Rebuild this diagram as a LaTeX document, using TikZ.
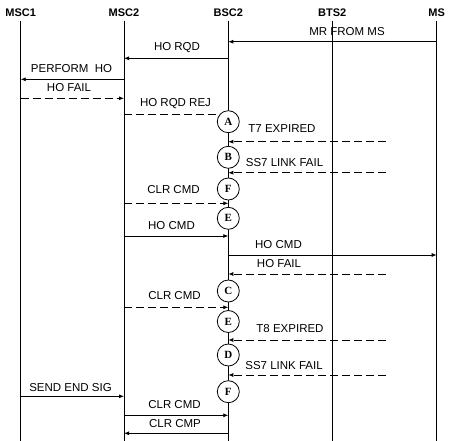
\documentclass[tikz,border=0pt]{standalone}
\usepackage{fontspec}
\setmainfont{Liberation Sans}
\newfontfamily\statefont{Liberation Serif}
\usetikzlibrary{arrows.meta,positioning}

\begin{document}
\begin{tikzpicture}[
    x=1pt, y=-1pt,
    >={Latex[length=5pt,width=4pt]},
    head/.style={font=\fontsize{11}{12}\selectfont\bfseries, inner sep=0pt},
    life/.style={line width=0.8pt},
    msg/.style={->, line width=0.8pt},
    fail/.style={->, line width=0.8pt, dash pattern=on 8pt off 4pt},
    lbl/.style={font=\fontsize{11.5}{13}\selectfont, inner sep=0pt},
    state/.style={draw, circle, fill=white, line width=0.8pt, minimum size=22pt, inner sep=0pt, font=\statefont\fontsize{11}{12}\selectfont\bfseries}
]
    \fill[white] (0,0) rectangle (452,441);
    \useasboundingbox (0,0) rectangle (452,441);

    % Entities
    \node[head] (msc1) at (20.7,12.7) {MSC1};
    \node[head] (msc2) at (124,12.7) {MSC2};
    \node[head] (bsc2) at (228.3,12.7) {BSC2};
    \node[head] (bts2) at (332.3,12.7) {BTS2};
    \node[head] (ms) at (436.7,12.7) {MS};
    \coordinate (ext) at (386,0);

    % Lifelines
    \draw[life] (msc1 |- 0,21) -- (msc1 |- 0,441);
    \draw[life] (msc2 |- 0,21) -- (msc2 |- 0,441);
    \draw[life] (bsc2 |- 0,21) -- (bsc2 |- 0,441);
    \draw[life] (bts2 |- 0,21) -- (bts2 |- 0,441);
    \draw[life] (ms |- 0,21) -- (ms |- 0,441);

    % Handover request and rejection
    \draw[msg] (ms |- 0,41.7) -- (bsc2 |- 0,41.7);
    \node[lbl] (mr) at (347,32) {MR FROM MS};
    \draw[msg] (bsc2 |- 0,58.3) -- (msc2 |- 0,58.3);
    \node[lbl] (horqd) at (177,48) {HO RQD};
    \draw[msg] (msc2 |- 0,79.3) -- (msc1 |- 0,79.3);
    \node[lbl] (perform) at (71.5,69) {PERFORM\ \ HO};
    \draw[fail] (msc1 |- 0,98.3) -- (msc2 |- 0,98.3);
    \node[lbl] (hofail1) at (69,88) {HO FAIL};
    \draw[fail] (msc2 |- 0,114.3) -- (bsc2 |- 0,114.3);
    \node[lbl] (horqdrej) at (175.5,104) {HO RQD REJ};

    % Failure cases before handover command
    \node[state] (sa) at (bsc2 |- 0,121.7) {A};
    \draw[fail] (ext |- 0,141.7) -- (bsc2 |- 0,141.7);
    \node[lbl] (t7) at (282,129) {T7 EXPIRED};
    \node[state] (sb) at (bsc2 |- 0,157.3) {B};
    \draw[fail] (ext |- 0,172.7) -- (bsc2 |- 0,172.7);
    \node[lbl] (ss7a) at (284.5,162.7) {SS7 LINK FAIL};
    \node[state] (sf1) at (bsc2 |- 0,189) {F};
    \draw[fail] (msc2 |- 0,203.3) -- (bsc2 |- 0,203.3);
    \node[lbl] (clr1) at (173.5,189.5) {CLR CMD};

    % Handover command
    \node[state] (se1) at (bsc2 |- 0,218.3) {E};
    \draw[msg] (msc2 |- 0,236) -- (bsc2 |- 0,236);
    \node[lbl] (hocmd1) at (171.5,226) {HO CMD};
    \draw[msg] (bsc2 |- 0,255) -- (ms |- 0,255);
    \node[lbl] (hocmd2) at (278.5,244.3) {HO CMD};
    \draw[fail] (ext |- 0,274) -- (bsc2 |- 0,274);
    \node[lbl] (hofail2) at (279,263.3) {HO FAIL};
    \node[state] (sc) at (bsc2 |- 0,291) {C};
    \draw[fail] (msc2 |- 0,307.3) -- (bsc2 |- 0,307.3);
    \node[lbl] (clr2) at (174.5,295.7) {CLR CMD};

    % Failure cases after handover command
    \node[state] (se2) at (bsc2 |- 0,321.5) {E};
    \draw[fail] (ext |- 0,340) -- (bsc2 |- 0,340);
    \node[lbl] (t8) at (290,328.3) {T8 EXPIRED};
    \node[state] (sd) at (bsc2 |- 0,355) {D};
    \draw[fail] (ext |- 0,375) -- (bsc2 |- 0,375);
    \node[lbl] (ss7b) at (284,366) {SS7 LINK FAIL};
    \node[state] (sf2) at (bsc2 |- 0,391.7) {F};

    % Release
    \draw[msg] (msc1 |- 0,396.3) -- (msc2 |- 0,396.3);
    \node[lbl] (endsig) at (70.5,387.7) {SEND END SIG};
    \draw[msg] (msc2 |- 0,415.3) -- (bsc2 |- 0,415.3);
    \node[lbl] (clr3) at (174.5,405) {CLR CMD};
    \draw[msg] (bsc2 |- 0,433.3) -- (msc2 |- 0,433.3);
    \node[lbl] (clrcmp) at (175,424) {CLR CMP};

\end{tikzpicture}
\end{document}
